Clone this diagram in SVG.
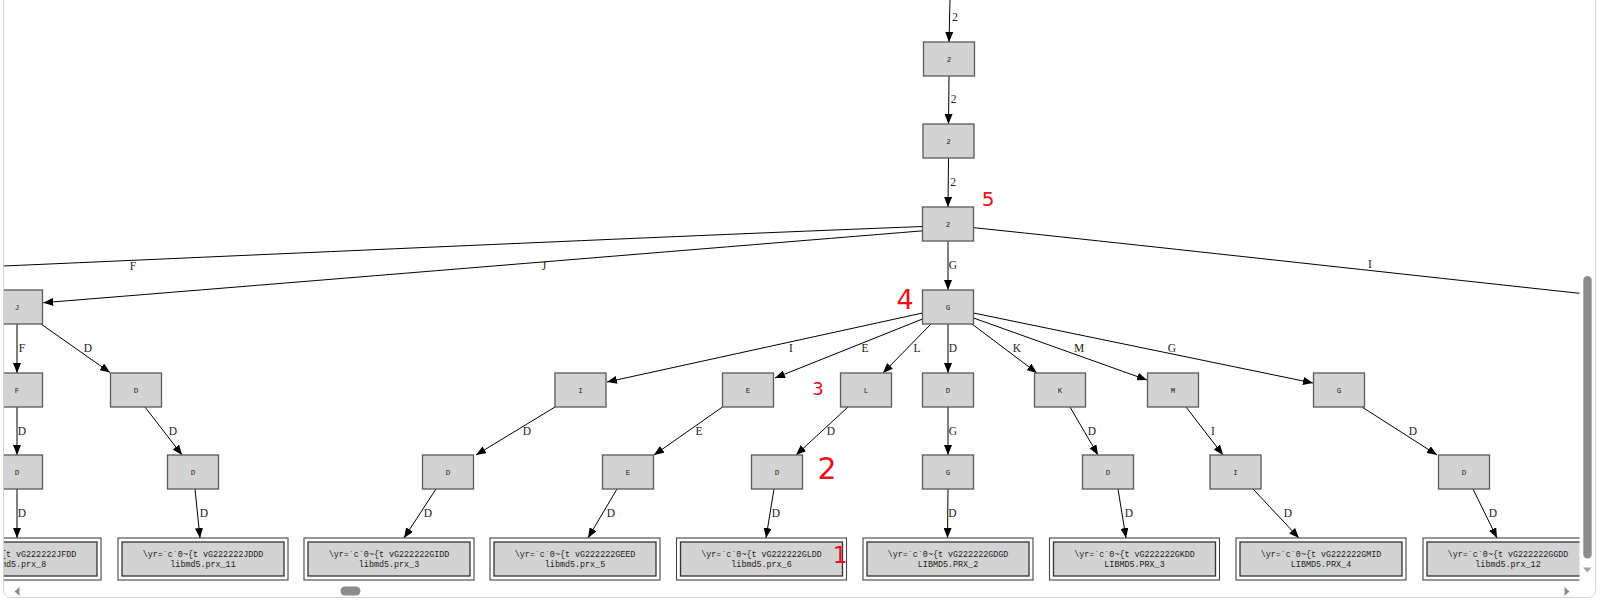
<svg xmlns="http://www.w3.org/2000/svg" width="1600" height="601" viewBox="0 0 1600 601">
<style>
.nd{fill:#d3d3d3;stroke:#5a5a5a;stroke-width:1.3}
.ro{fill:#fff;stroke:#444;stroke-width:1.1}
.ri{fill:#d3d3d3;stroke:#333;stroke-width:1.3}
.nt{font-family:"Liberation Mono",monospace;font-size:7.5px;fill:#222;text-anchor:middle}
.rt{font-family:"Liberation Mono",monospace;font-size:8.4px;fill:#222;text-anchor:middle}
.el{font-family:"Liberation Serif",serif;font-size:11.5px;fill:#222;text-anchor:middle}
.e{stroke:#000;stroke-width:1;fill:none}
.ea{stroke:#000;stroke-width:1;fill:none;marker-end:url(#ah)}
.red{font-family:"DejaVu Sans",sans-serif;font-weight:normal;fill:#e8101a;text-anchor:middle}
</style>
<defs>
<marker id="ah" markerUnits="userSpaceOnUse" markerWidth="10" markerHeight="8" refX="10" refY="4" orient="auto">
<path d="M0,0 L10,4 L0,8 z" fill="#000"/>
</marker>
<clipPath id="vp"><rect x="4" y="0" width="1575.5" height="583"/></clipPath>
</defs>
<rect x="0" y="0" width="1600" height="601" fill="#fff"/>
<rect x="3.5" y="-10" width="1592" height="607.5" rx="7" fill="#fff" stroke="#d4d4d4" stroke-width="1"/>
<g clip-path="url(#vp)">
<g id="connectors">
<line class="ea" x1="950" y1="0" x2="949" y2="42"/>
<text class="el" x="955" y="21">2</text>
<line class="ea" x1="949" y1="76" x2="948.5" y2="124"/>
<text class="el" x="953.5" y="103">2</text>
<line class="ea" x1="948.5" y1="158" x2="948" y2="207"/>
<text class="el" x="953" y="186">2</text>
<line class="ea" x1="948" y1="241" x2="948" y2="290"/>
<text class="el" x="953" y="269">G</text>
<path class="e" d="M923,226.5 C700,235 300,253 -10,266.6"/>
<text class="el" x="133" y="270">F</text>
<path class="ea" d="M923,230.8 C700,249 300,282 43.3,302.7"/>
<text class="el" x="544" y="270">J</text>
<path class="e" d="M973,227.6 C1150,246 1400,274 1600,295.5"/>
<text class="el" x="1370" y="268">I</text>
<line class="ea" x1="17" y1="324" x2="17" y2="373"/>
<text class="el" x="22" y="352">F</text>
<line class="ea" x1="41" y1="324" x2="110" y2="372.5"/>
<text class="el" x="88" y="352">D</text>
<line class="ea" x1="922.5" y1="313" x2="607" y2="382"/>
<text class="el" x="791" y="352">I</text>
<line class="ea" x1="922.5" y1="319" x2="775" y2="378"/>
<text class="el" x="865" y="352">E</text>
<line class="ea" x1="931" y1="324" x2="883" y2="373"/>
<text class="el" x="917" y="352">L</text>
<line class="ea" x1="948" y1="324" x2="948" y2="373"/>
<text class="el" x="953" y="352">D</text>
<line class="ea" x1="972" y1="324" x2="1037" y2="373"/>
<text class="el" x="1017" y="352">K</text>
<line class="ea" x1="973.5" y1="318" x2="1147" y2="380"/>
<text class="el" x="1079" y="352">M</text>
<line class="ea" x1="973.5" y1="313" x2="1313" y2="383"/>
<text class="el" x="1172" y="352">G</text>
<line class="ea" x1="17" y1="407" x2="17" y2="455"/>
<text class="el" x="22" y="435">D</text>
<line class="ea" x1="145" y1="407" x2="182" y2="455"/>
<text class="el" x="173" y="435">D</text>
<line class="ea" x1="555" y1="407" x2="476" y2="455"/>
<text class="el" x="527" y="435">D</text>
<line class="ea" x1="722.5" y1="407" x2="654" y2="455"/>
<text class="el" x="699" y="435">E</text>
<line class="ea" x1="848" y1="407" x2="796" y2="455"/>
<text class="el" x="831" y="435">D</text>
<line class="ea" x1="948" y1="407" x2="948" y2="455"/>
<text class="el" x="953" y="435">G</text>
<line class="ea" x1="1070" y1="407" x2="1098" y2="455"/>
<text class="el" x="1092" y="435">D</text>
<line class="ea" x1="1186" y1="407" x2="1223" y2="455"/>
<text class="el" x="1213" y="435">I</text>
<line class="ea" x1="1362" y1="407" x2="1437" y2="455"/>
<text class="el" x="1413" y="435">D</text>
<line class="ea" x1="17" y1="489" x2="17" y2="538"/>
<text class="el" x="22" y="517">D</text>
<line class="ea" x1="195" y1="489" x2="200" y2="538"/>
<text class="el" x="204" y="517">D</text>
<line class="ea" x1="436" y1="489" x2="404" y2="538"/>
<text class="el" x="428" y="517">D</text>
<line class="ea" x1="617" y1="489" x2="588" y2="538"/>
<text class="el" x="611" y="517">D</text>
<line class="ea" x1="774" y1="489" x2="766" y2="538"/>
<text class="el" x="776" y="517">D</text>
<line class="ea" x1="948" y1="489" x2="947.5" y2="538"/>
<text class="el" x="952.5" y="517">D</text>
<line class="ea" x1="1118" y1="489" x2="1126" y2="538"/>
<text class="el" x="1129" y="517">D</text>
<line class="ea" x1="1253" y1="489" x2="1299" y2="538"/>
<text class="el" x="1288" y="517">D</text>
<line class="ea" x1="1473" y1="489" x2="1497" y2="538"/>
<text class="el" x="1493" y="517">D</text>
</g>
<g id="n_top1"><rect class="nd" x="923.5" y="42" width="51" height="34"/><text class="nt" x="949" y="61.5">2</text></g>
<g id="n_top2"><rect class="nd" x="923" y="124" width="51" height="34"/><text class="nt" x="948.5" y="143.5">2</text></g>
<g id="n_top3"><rect class="nd" x="922.5" y="207" width="51" height="34"/><text class="nt" x="948" y="226.5">2</text></g>
<g id="n_J"><rect class="nd" x="-8.5" y="290" width="51" height="34"/><text class="nt" x="17" y="309.5">J</text></g>
<g id="n_G"><rect class="nd" x="922.5" y="290" width="51" height="34"/><text class="nt" x="948" y="309.5">G</text></g>
<g id="n_JF"><rect class="nd" x="-8.5" y="373" width="51" height="34"/><text class="nt" x="17" y="392.5">F</text></g>
<g id="n_JD"><rect class="nd" x="110.5" y="373" width="51" height="34"/><text class="nt" x="136" y="392.5">D</text></g>
<g id="n_GI"><rect class="nd" x="555" y="373" width="51" height="34"/><text class="nt" x="580.5" y="392.5">I</text></g>
<g id="n_GE"><rect class="nd" x="722.5" y="373" width="51" height="34"/><text class="nt" x="748" y="392.5">E</text></g>
<g id="n_GL"><rect class="nd" x="840.5" y="373" width="51" height="34"/><text class="nt" x="866" y="392.5">L</text></g>
<g id="n_GD"><rect class="nd" x="922.5" y="373" width="51" height="34"/><text class="nt" x="948" y="392.5">D</text></g>
<g id="n_GK"><rect class="nd" x="1034.5" y="373" width="51" height="34"/><text class="nt" x="1060" y="392.5">K</text></g>
<g id="n_GM"><rect class="nd" x="1147.5" y="373" width="51" height="34"/><text class="nt" x="1173" y="392.5">M</text></g>
<g id="n_GG"><rect class="nd" x="1313.5" y="373" width="51" height="34"/><text class="nt" x="1339" y="392.5">G</text></g>
<g id="n_JFD"><rect class="nd" x="-8.5" y="455" width="51" height="34"/><text class="nt" x="17" y="474.5">D</text></g>
<g id="n_JDD"><rect class="nd" x="167.5" y="455" width="51" height="34"/><text class="nt" x="193" y="474.5">D</text></g>
<g id="n_GID"><rect class="nd" x="422.5" y="455" width="51" height="34"/><text class="nt" x="448" y="474.5">D</text></g>
<g id="n_GEE"><rect class="nd" x="602.5" y="455" width="51" height="34"/><text class="nt" x="628" y="474.5">E</text></g>
<g id="n_GLD"><rect class="nd" x="751.5" y="455" width="51" height="34"/><text class="nt" x="777" y="474.5">D</text></g>
<g id="n_GDG"><rect class="nd" x="922.5" y="455" width="51" height="34"/><text class="nt" x="948" y="474.5">G</text></g>
<g id="n_GKD"><rect class="nd" x="1082.5" y="455" width="51" height="34"/><text class="nt" x="1108" y="474.5">D</text></g>
<g id="n_GMI"><rect class="nd" x="1210" y="455" width="51" height="34"/><text class="nt" x="1235.5" y="474.5">I</text></g>
<g id="n_GGD"><rect class="nd" x="1438.5" y="455" width="51" height="34"/><text class="nt" x="1464" y="474.5">D</text></g>
<g id="r_JFDD"><rect class="ro" x="-69" y="538" width="170" height="42"/><rect class="ri" x="-65" y="542" width="162" height="34"/><text class="rt" x="16" y="557">\yr=`c`0~{t vG222222JFDD</text><text class="rt" x="16" y="567">libmd5.prx_8</text></g>
<g id="r_JDDD"><rect class="ro" x="118" y="538" width="170" height="42"/><rect class="ri" x="122" y="542" width="162" height="34"/><text class="rt" x="203" y="557">\yr=`c`0~{t vG222222JDDD</text><text class="rt" x="203" y="567">libmd5.prx_11</text></g>
<g id="r_GIDD"><rect class="ro" x="304" y="538" width="170" height="42"/><rect class="ri" x="308" y="542" width="162" height="34"/><text class="rt" x="389" y="557">\yr=`c`0~{t vG222222GIDD</text><text class="rt" x="389" y="567">libmd5.prx_3</text></g>
<g id="r_GEED"><rect class="ro" x="490" y="538" width="170" height="42"/><rect class="ri" x="494" y="542" width="162" height="34"/><text class="rt" x="575" y="557">\yr=`c`0~{t vG222222GEED</text><text class="rt" x="575" y="567">libmd5.prx_5</text></g>
<g id="r_GLDD"><rect class="ro" x="676.5" y="538" width="170" height="42"/><rect class="ri" x="680.5" y="542" width="162" height="34"/><text class="rt" x="761.5" y="557">\yr=`c`0~{t vG222222GLDD</text><text class="rt" x="761.5" y="567">libmd5.prx_6</text></g>
<g id="r_GDGD"><rect class="ro" x="863" y="538" width="170" height="42"/><rect class="ri" x="867" y="542" width="162" height="34"/><text class="rt" x="948" y="557">\yr=`c`0~{t vG222222GDGD</text><text class="rt" x="948" y="567">LIBMD5.PRX_2</text></g>
<g id="r_GKDD"><rect class="ro" x="1049.5" y="538" width="170" height="42"/><rect class="ri" x="1053.5" y="542" width="162" height="34"/><text class="rt" x="1134.5" y="557">\yr=`c`0~{t vG222222GKDD</text><text class="rt" x="1134.5" y="567">LIBMD5.PRX_3</text></g>
<g id="r_GMID"><rect class="ro" x="1236" y="538" width="170" height="42"/><rect class="ri" x="1240" y="542" width="162" height="34"/><text class="rt" x="1321" y="557">\yr=`c`0~{t vG222222GMID</text><text class="rt" x="1321" y="567">LIBMD5.PRX_4</text></g>
<g id="r_GGDD"><rect class="ro" x="1423" y="538" width="170" height="42"/><rect class="ri" x="1427" y="542" width="162" height="34"/><text class="rt" x="1508" y="557">\yr=`c`0~{t vG222222GGDD</text><text class="rt" x="1508" y="567">libmd5.prx_12</text></g>
</g>
<g id="annotations">
<text class="red" x="988" y="206" font-size="20">5</text>
<text class="red" x="905" y="309" font-size="27">4</text>
<text class="red" x="818" y="395" font-size="18">3</text>
<text class="red" x="827" y="479" font-size="30">2</text>
<text class="red" x="840" y="563" font-size="23">1</text>
</g>
<g id="scrollbars">
<rect x="1583.3" y="276" width="8.4" height="282.5" rx="4.2" fill="#8c8c8c"/>
<path d="M1583,567.5 L1591.5,567.5 L1587.3,572.5 z" fill="#a3a3a3"/>
<rect x="340.5" y="586.5" width="20" height="9" rx="4.5" fill="#8c8c8c"/>
<path d="M19.5,587 L19.5,596 L14.5,591.5 z" fill="#8c8c8c"/>
<path d="M1564.5,587 L1564.5,596 L1569.5,591.5 z" fill="#8c8c8c"/>
</g>
</svg>
